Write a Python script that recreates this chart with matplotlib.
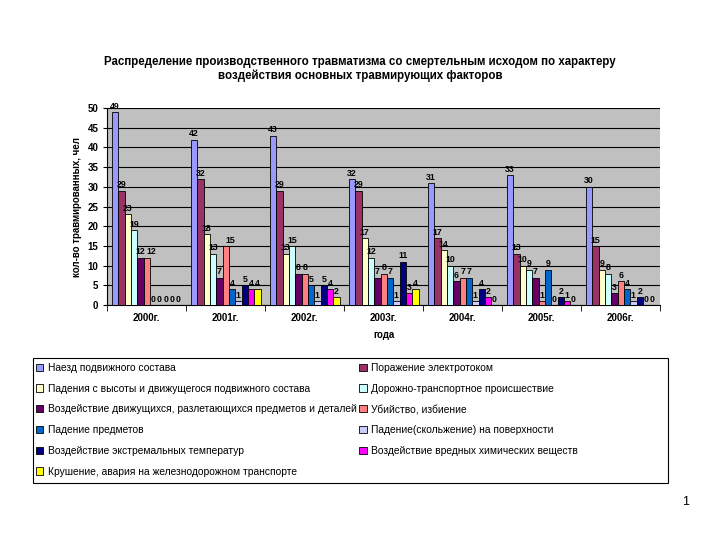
import numpy as np
import matplotlib.pyplot as plt
from matplotlib.patches import Rectangle

plt.rcParams['font.family'] = ['Liberation Sans', 'DejaVu Sans']

years = ['2000г.', '2001г.', '2002г.', '2003г.', '2004г.', '2005г.', '2006г.']

naezd = [49, 42, 43, 32, 31, 33, 30]
elektro = [29, 32, 29, 29, 17, 13, 15]
padenie_vys = [23, 18, 13, 17, 14, 10, 9]
dtp = [19, 13, 15, 12, 10, 9, 8]
razlet = [12, 7, 8, 7, 6, 7, 3]
ubiystvo = [12, 15, 8, 8, 7, 1, 6]
pad_predm = [0, 4, 5, 7, 7, 9, 4]
skolzh = [0, 1, 1, 1, 1, 0, 1]
temper = [0, 5, 5, 11, 4, 2, 2]
himiya = [0, 4, 4, 3, 2, 1, 0]
krushenie = [0, 4, 2, 4, 0, 0, 0]

series = [naezd, elektro, padenie_vys, dtp, razlet, ubiystvo,
          pad_predm, skolzh, temper, himiya, krushenie]
names = ['Наезд подвижного состава',
         'Поражение электротоком',
         'Падения с высоты и движущегося подвижного состава',
         'Дорожно-транспортное происшествие',
         'Воздействие движущихся, разлетающихся предметов и деталей',
         'Убийство, избиение',
         'Падение предметов',
         'Падение(скольжение) на поверхности',
         'Воздействие экстремальных температур',
         'Воздействие вредных химических веществ',
         'Крушение, авария на железнодорожном транспорте']
colors = ['#9999FF', '#993366', '#FFFFCC', '#CCFFFF', '#660066', '#FF8080',
          '#0066CC', '#CCCCFF', '#000080', '#FF00FF', '#FFFF00']

fig = plt.figure(figsize=(7.2, 5.4), dpi=100)
ax = fig.add_axes([0.149, 0.435, 0.768, 0.365])
ax.set_facecolor('#C0C0C0')

x = np.arange(len(years))
n = len(series)
w = 0.88 / n
handles = []
for i, (vals, c, nm) in enumerate(zip(series, colors, names)):
    pos = x - 0.44 + w * (i + 0.5)
    b = ax.bar(pos, vals, w, color=c, edgecolor='black', linewidth=0.6,
               label=nm, zorder=3)
    texts = ax.bar_label(b, padding=1, fontsize=6.3, fontweight='bold')
    if i == 5:
        # nudge two-digit "Убийство" labels right so they clear the neighbour
        for t, v in zip(texts, vals):
            if v >= 10:
                t.xyann = (3, 1)
    handles.append(b)

ax.set_xlim(-0.5, len(years) - 0.5)
ax.set_ylim(0, 50)
ax.set_yticks(range(0, 51, 5))
ax.yaxis.grid(True, color='black', linewidth=0.8, zorder=0)
ax.set_xticks(x)
ax.set_xticklabels(years, fontsize=7, fontweight='bold')
ax.set_xticks(np.arange(-0.5, len(years), 1), minor=True)
ax.tick_params(axis='x', which='major', length=0, pad=6)
ax.tick_params(axis='x', which='minor', length=4)
ax.tick_params(axis='y', labelsize=7, length=3)
for lbl in ax.get_yticklabels():
    lbl.set_fontweight('bold')
for s in ['top', 'right']:
    ax.spines[s].set_visible(False)

ax.set_ylabel('кол-во травмированных, чел', fontsize=7, fontweight='bold')
ax.set_xlabel('года', fontsize=7, fontweight='bold', labelpad=5)

fig.text(0.5, 0.872, 'Распределение производственного травматизма со смертельным исходом по характеру\n'
         'воздействия основных травмирующих факторов',
         ha='center', va='center', fontsize=8.3, fontweight='bold')

# legend frame drawn separately so it spans the full width
fig.add_artist(Rectangle((0.046, 0.106), 0.882, 0.231, transform=fig.transFigure,
                         fill=False, edgecolor='black', linewidth=0.8))
order = [0, 2, 4, 6, 8, 10, 1, 3, 5, 7, 9]
leg = fig.legend([handles[i] for i in order], [names[i] for i in order],
                 ncol=2, loc='upper left', bbox_to_anchor=(0.046, 0.334),
                 fontsize=7.4, frameon=False, handlelength=0.7, handleheight=0.7,
                 handletextpad=0.4, labelspacing=1.05, columnspacing=0.3,
                 borderaxespad=0, borderpad=0.3)

fig.text(0.952, 0.065, '1', fontsize=9, ha='center')

fig.savefig('out.png', dpi=100)
